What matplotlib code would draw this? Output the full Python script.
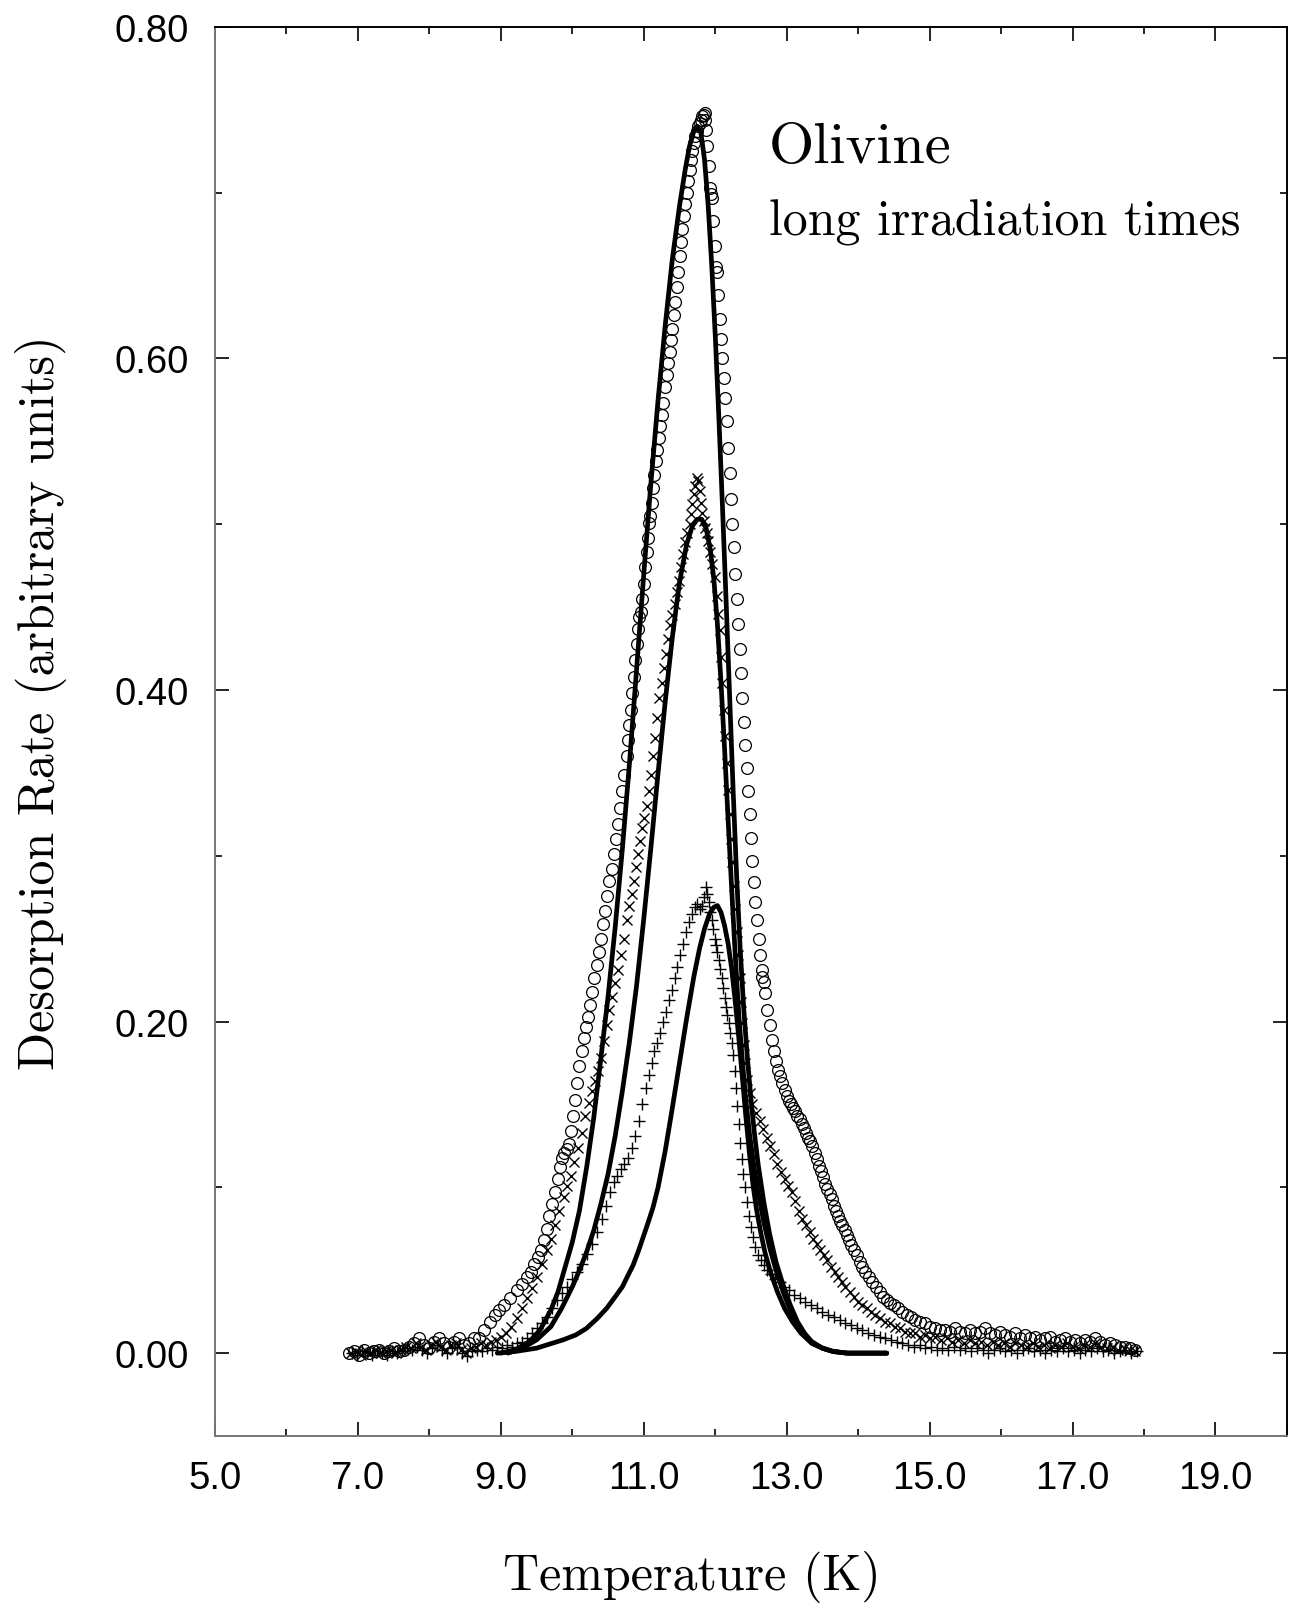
"""
Olivine TPD spectra, long irradiation times: measured points and fitted curves.
"""

from matplotlib import pyplot as plt
from matplotlib.ticker import MultipleLocator, FormatStrFormatter
import numpy as np

# measured desorption rate, open circles (T in K, rate)
circles = [
    (6.88, 0.000), (6.95, 0.001), (7.02, -0.001), (7.09, 0.002), (7.16, 0.000), (7.23, 0.001),
    (7.30, 0.002), (7.37, 0.000), (7.44, 0.001), (7.51, 0.003), (7.58, 0.001), (7.65, 0.002),
    (7.72, 0.004), (7.79, 0.006), (7.86, 0.009), (7.93, 0.005), (8.00, 0.003), (8.07, 0.007),
    (8.14, 0.009), (8.21, 0.006), (8.28, 0.004), (8.35, 0.007), (8.42, 0.009), (8.49, 0.005),
    (8.56, 0.006), (8.63, 0.009), (8.70, 0.009), (8.77, 0.014), (8.85, 0.019), (8.92, 0.023),
    (8.98, 0.026), (9.05, 0.029), (9.13, 0.033), (9.22, 0.038), (9.30, 0.042), (9.37, 0.046),
    (9.42, 0.049), (9.47, 0.054), (9.52, 0.058), (9.56, 0.062), (9.60, 0.068), (9.64, 0.075),
    (9.68, 0.083), (9.72, 0.090), (9.76, 0.097), (9.80, 0.105), (9.83, 0.112), (9.86, 0.118),
    (9.89, 0.121), (9.92, 0.123), (9.95, 0.126), (9.98, 0.134), (10.01, 0.143), (10.04, 0.153),
    (10.07, 0.163), (10.10, 0.173), (10.13, 0.182), (10.16, 0.190), (10.19, 0.197), (10.22, 0.203),
    (10.25, 0.210), (10.28, 0.218), (10.31, 0.226), (10.34, 0.234), (10.37, 0.242), (10.40, 0.250),
    (10.43, 0.259), (10.46, 0.267), (10.49, 0.276), (10.52, 0.285), (10.55, 0.292), (10.58, 0.301),
    (10.61, 0.310), (10.64, 0.319), (10.67, 0.329), (10.70, 0.339), (10.73, 0.349), (10.76, 0.360),
    (10.78, 0.370), (10.80, 0.379), (10.82, 0.388), (10.84, 0.398), (10.86, 0.408), (10.88, 0.418),
    (10.90, 0.428), (10.92, 0.437), (10.94, 0.444), (10.96, 0.447), (10.98, 0.455), (11.00, 0.464),
    (11.02, 0.474), (11.04, 0.483), (11.06, 0.492), (11.08, 0.501), (11.09, 0.505), (11.11, 0.513),
    (11.13, 0.522), (11.15, 0.530), (11.17, 0.538), (11.19, 0.545), (11.21, 0.552), (11.23, 0.559),
    (11.25, 0.566), (11.27, 0.573), (11.30, 0.583), (11.32, 0.590), (11.34, 0.597), (11.36, 0.604),
    (11.38, 0.611), (11.40, 0.618), (11.42, 0.626), (11.44, 0.634), (11.46, 0.643), (11.48, 0.652),
    (11.50, 0.662), (11.52, 0.670), (11.54, 0.678), (11.56, 0.686), (11.58, 0.693), (11.60, 0.700),
    (11.62, 0.707), (11.64, 0.714), (11.66, 0.720), (11.68, 0.725), (11.70, 0.730), (11.72, 0.734),
    (11.74, 0.737), (11.76, 0.740), (11.78, 0.742), (11.80, 0.744), (11.82, 0.746), (11.84, 0.747),
    (11.85, 0.748), (11.86, 0.744), (11.87, 0.738), (11.89, 0.728), (11.91, 0.716), (11.93, 0.703),
    (11.94, 0.699), (11.95, 0.697), (11.97, 0.683), (11.99, 0.668), (12.01, 0.655), (12.02, 0.652),
    (12.04, 0.638), (12.06, 0.624), (12.08, 0.612), (12.10, 0.600), (12.12, 0.588), (12.14, 0.576),
    (12.16, 0.562), (12.18, 0.546), (12.20, 0.531), (12.22, 0.515), (12.24, 0.500), (12.26, 0.486),
    (12.28, 0.470), (12.30, 0.455), (12.32, 0.440), (12.34, 0.425), (12.36, 0.410), (12.38, 0.395),
    (12.40, 0.381), (12.42, 0.367), (12.44, 0.353), (12.46, 0.339), (12.48, 0.325), (12.50, 0.311),
    (12.52, 0.297), (12.54, 0.284), (12.56, 0.272), (12.58, 0.261), (12.61, 0.250), (12.63, 0.240),
    (12.65, 0.231), (12.66, 0.227), (12.68, 0.224), (12.70, 0.217), (12.73, 0.207), (12.76, 0.198),
    (12.79, 0.189), (12.82, 0.182), (12.85, 0.176), (12.88, 0.171), (12.91, 0.167), (12.94, 0.163),
    (12.97, 0.159), (13.00, 0.155), (13.03, 0.152), (13.06, 0.150), (13.09, 0.148), (13.12, 0.146),
    (13.15, 0.143), (13.18, 0.141), (13.21, 0.138), (13.24, 0.136), (13.27, 0.133), (13.30, 0.130),
    (13.33, 0.128), (13.36, 0.125), (13.39, 0.121), (13.42, 0.117), (13.45, 0.113), (13.48, 0.110),
    (13.51, 0.106), (13.54, 0.102), (13.57, 0.099), (13.60, 0.096), (13.63, 0.093), (13.66, 0.089),
    (13.69, 0.086), (13.72, 0.083), (13.75, 0.080), (13.78, 0.077), (13.81, 0.074), (13.84, 0.071),
    (13.87, 0.068), (13.90, 0.065), (13.94, 0.062), (13.98, 0.059), (14.02, 0.055), (14.06, 0.052),
    (14.10, 0.049), (14.15, 0.046), (14.20, 0.043), (14.25, 0.040), (14.30, 0.037), (14.35, 0.034),
    (14.40, 0.032), (14.45, 0.030), (14.50, 0.029), (14.56, 0.027), (14.62, 0.025), (14.68, 0.023),
    (14.74, 0.022), (14.80, 0.020), (14.86, 0.019), (14.93, 0.018), (15.00, 0.016), (15.07, 0.015),
    (15.14, 0.014), (15.21, 0.014), (15.28, 0.013), (15.35, 0.015), (15.42, 0.013), (15.49, 0.012),
    (15.56, 0.014), (15.63, 0.012), (15.70, 0.013), (15.77, 0.015), (15.84, 0.012), (15.91, 0.011),
    (15.98, 0.013), (16.05, 0.011), (16.12, 0.010), (16.19, 0.012), (16.26, 0.009), (16.33, 0.011),
    (16.40, 0.009), (16.47, 0.010), (16.54, 0.008), (16.61, 0.009), (16.68, 0.010), (16.75, 0.007),
    (16.82, 0.008), (16.89, 0.009), (16.96, 0.007), (17.03, 0.008), (17.10, 0.006), (17.17, 0.008),
    (17.24, 0.007), (17.31, 0.009), (17.38, 0.007), (17.45, 0.005), (17.52, 0.006), (17.59, 0.005),
    (17.66, 0.004), (17.73, 0.004), (17.80, 0.003), (17.87, 0.002),
]

# measured, crosses
crosses = [
    (6.90, 0.000), (6.97, 0.001), (7.04, -0.001), (7.11, 0.001), (7.18, 0.000), (7.25, 0.002),
    (7.32, 0.000), (7.39, 0.001), (7.46, 0.002), (7.53, 0.000), (7.60, 0.002), (7.67, 0.004),
    (7.74, 0.003), (7.81, 0.006), (7.88, 0.004), (7.95, 0.002), (8.02, 0.005), (8.09, 0.007),
    (8.16, 0.004), (8.23, 0.002), (8.30, 0.005), (8.37, 0.006), (8.44, 0.002), (8.51, 0.000),
    (8.58, 0.003), (8.65, 0.004), (8.72, 0.006), (8.79, 0.005), (8.86, 0.007), (8.93, 0.008),
    (9.00, 0.010), (9.07, 0.012), (9.14, 0.016), (9.22, 0.021), (9.29, 0.027), (9.36, 0.033),
    (9.43, 0.039), (9.50, 0.046), (9.57, 0.054), (9.64, 0.062), (9.70, 0.069), (9.76, 0.077),
    (9.82, 0.086), (9.88, 0.094), (9.93, 0.101), (9.98, 0.107), (10.03, 0.115), (10.08, 0.124),
    (10.13, 0.133), (10.18, 0.143), (10.23, 0.151), (10.28, 0.158), (10.32, 0.164), (10.36, 0.170),
    (10.40, 0.178), (10.44, 0.188), (10.48, 0.198), (10.52, 0.207), (10.56, 0.215), (10.60, 0.223),
    (10.64, 0.231), (10.68, 0.240), (10.72, 0.250), (10.76, 0.261), (10.80, 0.270), (10.83, 0.277),
    (10.86, 0.285), (10.89, 0.293), (10.92, 0.301), (10.95, 0.309), (10.98, 0.317), (11.01, 0.323),
    (11.04, 0.330), (11.07, 0.339), (11.10, 0.349), (11.13, 0.360), (11.16, 0.371), (11.19, 0.383),
    (11.22, 0.395), (11.25, 0.404), (11.28, 0.413), (11.31, 0.422), (11.34, 0.431), (11.37, 0.439),
    (11.40, 0.445), (11.43, 0.452), (11.46, 0.459), (11.49, 0.466), (11.52, 0.474), (11.55, 0.482),
    (11.58, 0.489), (11.61, 0.495), (11.64, 0.500), (11.66, 0.506), (11.68, 0.512), (11.70, 0.518),
    (11.72, 0.523), (11.74, 0.528), (11.76, 0.526), (11.78, 0.520), (11.80, 0.513), (11.82, 0.507),
    (11.84, 0.502), (11.86, 0.498), (11.88, 0.495), (11.90, 0.490), (11.93, 0.483), (11.96, 0.476),
    (11.99, 0.468), (12.02, 0.457), (12.04, 0.446), (12.06, 0.436), (12.08, 0.420), (12.10, 0.404),
    (12.12, 0.388), (12.14, 0.372), (12.16, 0.356), (12.18, 0.340), (12.20, 0.325), (12.22, 0.310),
    (12.24, 0.296), (12.26, 0.282), (12.28, 0.268), (12.30, 0.254), (12.32, 0.240), (12.34, 0.226),
    (12.36, 0.212), (12.38, 0.199), (12.40, 0.186), (12.42, 0.175), (12.45, 0.165), (12.48, 0.157),
    (12.52, 0.150), (12.57, 0.145), (12.62, 0.140), (12.67, 0.135), (12.72, 0.130), (12.77, 0.125),
    (12.82, 0.120), (12.87, 0.114), (12.92, 0.109), (12.97, 0.105), (13.02, 0.101), (13.07, 0.097),
    (13.12, 0.092), (13.17, 0.086), (13.22, 0.081), (13.27, 0.077), (13.32, 0.073), (13.37, 0.069),
    (13.42, 0.066), (13.47, 0.062), (13.52, 0.059), (13.57, 0.056), (13.62, 0.052), (13.67, 0.049),
    (13.72, 0.046), (13.77, 0.043), (13.82, 0.040), (13.88, 0.037), (13.94, 0.034), (14.00, 0.031),
    (14.06, 0.029), (14.12, 0.027), (14.18, 0.025), (14.24, 0.023), (14.30, 0.021), (14.37, 0.019),
    (14.44, 0.018), (14.51, 0.016), (14.58, 0.015), (14.65, 0.013), (14.72, 0.012), (14.79, 0.012),
    (14.86, 0.010), (14.93, 0.011), (15.00, 0.009), (15.08, 0.010), (15.16, 0.008), (15.24, 0.009),
    (15.32, 0.007), (15.40, 0.008), (15.48, 0.006), (15.56, 0.008), (15.64, 0.006), (15.72, 0.007),
    (15.80, 0.005), (15.88, 0.007), (15.96, 0.005), (16.04, 0.006), (16.12, 0.004), (16.20, 0.006),
    (16.28, 0.005), (16.36, 0.004), (16.44, 0.006), (16.52, 0.004), (16.60, 0.005), (16.68, 0.003),
    (16.76, 0.005), (16.84, 0.004), (16.92, 0.006), (17.00, 0.004), (17.08, 0.003), (17.16, 0.005),
    (17.24, 0.004), (17.32, 0.006), (17.40, 0.004), (17.48, 0.003), (17.56, 0.004), (17.64, 0.002),
    (17.72, 0.003), (17.80, 0.002), (17.88, 0.001),
]

# measured, plus signs
pluses = [
    (6.92, 0.000), (6.99, -0.001), (7.06, 0.001), (7.13, 0.000), (7.20, -0.001), (7.27, 0.001),
    (7.34, 0.000), (7.41, -0.001), (7.48, 0.001), (7.55, 0.000), (7.62, 0.001), (7.69, 0.003),
    (7.76, 0.002), (7.83, 0.004), (7.90, 0.002), (7.97, 0.000), (8.04, 0.003), (8.11, 0.005),
    (8.18, 0.002), (8.25, 0.000), (8.32, 0.003), (8.39, 0.004), (8.46, 0.000), (8.53, -0.002),
    (8.60, 0.001), (8.67, 0.002), (8.74, 0.001), (8.81, 0.003), (8.88, 0.002), (8.95, 0.004),
    (9.02, 0.003), (9.09, 0.005), (9.16, 0.004), (9.23, 0.006), (9.30, 0.007), (9.37, 0.009),
    (9.44, 0.012), (9.51, 0.015), (9.58, 0.018), (9.65, 0.022), (9.72, 0.027), (9.79, 0.032),
    (9.86, 0.036), (9.93, 0.040), (10.00, 0.045), (10.07, 0.049), (10.14, 0.054), (10.21, 0.060),
    (10.28, 0.066), (10.35, 0.073), (10.41, 0.081), (10.47, 0.089), (10.53, 0.097), (10.58, 0.103),
    (10.63, 0.107), (10.68, 0.111), (10.73, 0.114), (10.78, 0.118), (10.83, 0.124), (10.88, 0.131),
    (10.93, 0.140), (10.98, 0.150), (11.03, 0.160), (11.07, 0.168), (11.11, 0.175), (11.15, 0.182),
    (11.19, 0.187), (11.23, 0.193), (11.27, 0.200), (11.31, 0.206), (11.35, 0.213), (11.39, 0.219),
    (11.43, 0.226), (11.47, 0.233), (11.51, 0.240), (11.55, 0.247), (11.59, 0.254), (11.63, 0.260),
    (11.67, 0.265), (11.71, 0.269), (11.75, 0.271), (11.78, 0.268), (11.81, 0.270), (11.84, 0.275),
    (11.87, 0.281), (11.89, 0.277), (11.91, 0.272), (11.93, 0.266), (11.95, 0.261), (11.97, 0.256),
    (11.99, 0.250), (12.01, 0.246), (12.03, 0.242), (12.05, 0.237), (12.07, 0.232), (12.09, 0.226),
    (12.11, 0.220), (12.13, 0.214), (12.15, 0.209), (12.17, 0.204), (12.19, 0.199), (12.21, 0.193),
    (12.23, 0.187), (12.25, 0.180), (12.27, 0.170), (12.29, 0.160), (12.31, 0.149), (12.33, 0.138),
    (12.35, 0.127), (12.37, 0.117), (12.39, 0.108), (12.41, 0.100), (12.44, 0.091), (12.47, 0.083),
    (12.50, 0.076), (12.53, 0.070), (12.56, 0.064), (12.60, 0.059), (12.64, 0.056), (12.68, 0.053),
    (12.73, 0.050), (12.78, 0.048), (12.84, 0.045), (12.90, 0.043), (12.96, 0.040), (13.03, 0.038),
    (13.10, 0.035), (13.18, 0.033), (13.26, 0.031), (13.34, 0.029), (13.42, 0.027), (13.50, 0.025),
    (13.58, 0.023), (13.66, 0.022), (13.74, 0.020), (13.82, 0.018), (13.90, 0.017), (13.98, 0.015),
    (14.06, 0.014), (14.14, 0.012), (14.22, 0.011), (14.30, 0.010), (14.38, 0.009), (14.46, 0.008),
    (14.54, 0.007), (14.62, 0.006), (14.70, 0.005), (14.78, 0.004), (14.86, 0.005), (14.94, 0.003),
    (15.02, 0.004), (15.10, 0.002), (15.18, 0.003), (15.26, 0.002), (15.34, 0.004), (15.42, 0.002),
    (15.50, 0.003), (15.58, 0.001), (15.66, 0.003), (15.74, 0.002), (15.82, 0.000), (15.90, 0.002),
    (15.98, 0.003), (16.06, 0.001), (16.14, 0.002), (16.22, 0.000), (16.30, 0.002), (16.38, 0.003),
    (16.46, 0.001), (16.54, 0.002), (16.62, 0.000), (16.70, 0.002), (16.78, 0.001), (16.86, 0.003),
    (16.94, 0.001), (17.02, 0.002), (17.10, 0.000), (17.18, 0.002), (17.26, 0.001), (17.34, 0.003),
    (17.42, 0.001), (17.50, 0.002), (17.58, 0.000), (17.66, 0.001), (17.74, 0.002), (17.82, 0.000),
    (17.90, 0.001),
]

# fitted curves (solid lines)
fit_circles = [
    (9.00, 0.000), (9.20, 0.002), (9.40, 0.007), (9.55, 0.014), (9.70, 0.026), (9.80, 0.037),
    (9.90, 0.052), (10.00, 0.067), (10.10, 0.086), (10.20, 0.112), (10.30, 0.142), (10.40, 0.178),
    (10.50, 0.215), (10.60, 0.257), (10.70, 0.304), (10.80, 0.356), (10.90, 0.413), (11.00, 0.470),
    (11.10, 0.525), (11.20, 0.575), (11.30, 0.620), (11.40, 0.660), (11.50, 0.692), (11.58, 0.714),
    (11.64, 0.728), (11.70, 0.737), (11.75, 0.740), (11.80, 0.736), (11.85, 0.720), (11.90, 0.693),
    (11.95, 0.657), (12.00, 0.614), (12.05, 0.565), (12.10, 0.512), (12.15, 0.456), (12.20, 0.398),
    (12.25, 0.340), (12.30, 0.287), (12.35, 0.243), (12.40, 0.207), (12.45, 0.178), (12.50, 0.153),
    (12.55, 0.132), (12.60, 0.114), (12.68, 0.091), (12.76, 0.072), (12.85, 0.055), (12.95, 0.041),
    (13.05, 0.029), (13.15, 0.019), (13.25, 0.012), (13.35, 0.007), (13.50, 0.003), (13.65, 0.001),
    (13.85, 0.000), (14.40, 0.000),
]

fit_crosses = [
    (9.10, 0.000), (9.30, 0.003), (9.50, 0.008), (9.70, 0.016), (9.85, 0.027), (10.00, 0.040),
    (10.10, 0.050), (10.20, 0.061), (10.30, 0.074), (10.40, 0.090), (10.50, 0.108), (10.60, 0.131),
    (10.70, 0.158), (10.80, 0.188), (10.90, 0.222), (11.00, 0.262), (11.10, 0.305), (11.20, 0.350),
    (11.30, 0.393), (11.40, 0.432), (11.50, 0.465), (11.60, 0.488), (11.68, 0.499), (11.75, 0.503),
    (11.81, 0.503), (11.87, 0.498), (11.93, 0.485), (11.98, 0.467), (12.03, 0.440), (12.08, 0.405),
    (12.13, 0.365), (12.18, 0.322), (12.23, 0.280), (12.28, 0.240), (12.33, 0.204), (12.38, 0.176),
    (12.43, 0.152), (12.48, 0.132), (12.54, 0.113), (12.60, 0.097), (12.68, 0.079), (12.76, 0.064),
    (12.85, 0.050), (12.95, 0.037), (13.05, 0.026), (13.15, 0.018), (13.25, 0.011), (13.35, 0.006),
    (13.50, 0.003), (13.65, 0.001), (13.85, 0.000), (14.40, 0.000),
]

fit_pluses = [
    (8.95, 0.000), (9.20, 0.001), (9.50, 0.003), (9.87, 0.008), (10.05, 0.011), (10.20, 0.015),
    (10.35, 0.021), (10.48, 0.027), (10.60, 0.034), (10.70, 0.040), (10.78, 0.047), (10.85, 0.053),
    (10.92, 0.061), (11.00, 0.071), (11.07, 0.080), (11.13, 0.088), (11.20, 0.100), (11.30, 0.122),
    (11.40, 0.148), (11.50, 0.175), (11.60, 0.202), (11.70, 0.227), (11.78, 0.244), (11.85, 0.256),
    (11.92, 0.265), (11.98, 0.269), (12.03, 0.270), (12.08, 0.266), (12.13, 0.258), (12.18, 0.247),
    (12.23, 0.232), (12.28, 0.212), (12.33, 0.190), (12.38, 0.166), (12.43, 0.142), (12.48, 0.120),
    (12.53, 0.101), (12.58, 0.086), (12.64, 0.072), (12.70, 0.060), (12.78, 0.048), (12.87, 0.037),
    (12.97, 0.027), (13.08, 0.019), (13.20, 0.012), (13.35, 0.006), (13.50, 0.003), (13.65, 0.001),
    (13.85, 0.000), (14.40, 0.000),
]

x_ticks = [5, 7, 9, 11, 13, 15, 17, 19]
y_ticks = [0.0, 0.2, 0.4, 0.6, 0.8]

fig = plt.figure(figsize=[12.89, 16.15], dpi=100)
ax = fig.add_axes([0.1668, 0.1102, 0.8316, 0.8725])

T, v = np.array(circles).T
ax.plot(T, v, linestyle='None', marker='o', markersize=8.5, markerfacecolor='none',
        markeredgecolor='k', markeredgewidth=0.9, zorder=2)
T, v = np.array(crosses).T
ax.plot(T, v, linestyle='None', marker='x', markersize=6.5, color='k',
        markeredgewidth=1.0, zorder=2)
T, v = np.array(pluses).T
ax.plot(T, v, linestyle='None', marker='+', markersize=8.5, color='k',
        markeredgewidth=1.0, zorder=2)

for fit in (fit_circles, fit_crosses, fit_pluses):
    T, v = np.array(fit).T
    ax.plot(T, v, color='k', linewidth=3.4, solid_capstyle='round',
            solid_joinstyle='round', zorder=3)

ax.set_xlim(5, 20)
ax.set_ylim(-0.05, 0.80)
ax.set_xticks(x_ticks)
ax.set_yticks(y_ticks)
ax.xaxis.set_minor_locator(MultipleLocator(1))
ax.yaxis.set_minor_locator(MultipleLocator(0.1))
ax.xaxis.set_major_formatter(FormatStrFormatter('%.1f'))
ax.yaxis.set_major_formatter(FormatStrFormatter('%.2f'))

ax.tick_params(which='both', direction='in', top=True, right=True, width=1.2, color='k')
ax.tick_params(which='major', length=10)
ax.tick_params(which='minor', length=5)
ax.tick_params(axis='x', which='major', pad=17)
ax.tick_params(axis='y', which='major', pad=19)
for lab in ax.get_xticklabels() + ax.get_yticklabels():
    lab.set_fontfamily('Liberation Sans')
    lab.set_fontsize(27.5)

for side in ['left', 'bottom']:
    ax.spines[side].set_color('#777777')
    ax.spines[side].set_linewidth(1.4)
for side in ['top', 'right']:
    ax.spines[side].set_color('k')
    ax.spines[side].set_linewidth(1.4)

ax.set_xlabel('Temperature (K)', fontfamily='cmr10', fontsize=36, va='center')
ax.set_ylabel('Desorption Rate (arbitrary units)', fontfamily='cmr10', fontsize=36,
              va='center')
ax.xaxis.set_label_coords(0.445, -0.099)
ax.yaxis.set_label_coords(-0.162, 0.521)

ax.text(0.517, 0.904, 'Olivine', transform=ax.transAxes, fontfamily='cmr10',
        fontsize=42, ha='left', va='baseline')
ax.text(0.517, 0.853, 'long irradiation times', transform=ax.transAxes,
        fontfamily='cmr10', fontsize=36, ha='left', va='baseline')

plt.savefig('out.png', dpi=100)
